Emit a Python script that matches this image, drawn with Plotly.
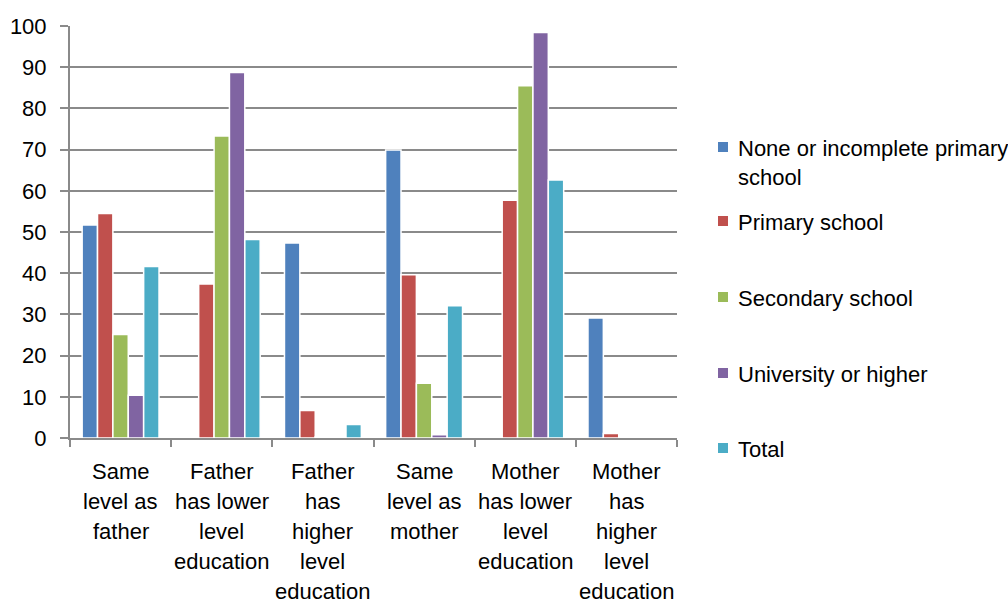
import plotly.graph_objects as go

# Categories (comparison of child's education with parents')
categories = [
    "Same level as father",
    "Father has lower level education",
    "Father has higher level education",
    "Same level as mother",
    "Mother has lower level education",
    "Mother has higher level education",
]
category_lines = [
    ["Same", "level as", "father"],
    ["Father", "has lower", "level", "education"],
    ["Father", "has", "higher", "level", "education"],
    ["Same", "level as", "mother"],
    ["Mother", "has lower", "level", "education"],
    ["Mother", "has", "higher", "level", "education"],
]

series_names = [
    "None or incomplete primary<br>school",
    "Primary school",
    "Secondary school",
    "University or higher",
    "Total",
]
none_or_incomplete = [51.7, 0, 47.3, 69.9, 0, 29.1]
primary = [54.5, 37.4, 6.7, 39.6, 57.7, 1.1]
secondary = [25.1, 73.3, 0.3, 13.3, 85.5, 0]
university = [10.4, 88.7, 0, 0.8, 98.4, 0]
total = [41.6, 48.2, 3.3, 32.1, 62.6, 0.3]

series_values = [none_or_incomplete, primary, secondary, university, total]
colors = ["#4F81BD", "#C0504D", "#9BBB59", "#8064A2", "#4BACC6"]

W, H = 1008, 604
ML, MR, MT, MB = 70, 331, 26, 166
PW, PH = W - ML - MR, H - MT - MB
FONT = "Liberation Sans, Arial, sans-serif"
GRID = "#8a8a8a"

fig = go.Figure()
for name, vals, col in zip(series_names, series_values, colors):
    fig.add_trace(go.Bar(
        x=categories, y=vals, name=name,
        marker=dict(color=col, line=dict(color="white", width=1.5)),
        showlegend=False,
    ))


def px_x(px):
    return (px - ML) / PW


def px_y(py):
    return (H - MB - py) / PH


annotations = []
# multi-line category labels below the axis
for cat, lines in zip(categories, category_lines):
    for i, line in enumerate(lines):
        annotations.append(dict(
            x=cat, xref="x", y=0, yref="paper",
            yshift=-(33 + 30 * i), yanchor="middle", xanchor="center",
            text=line, showarrow=False,
            font=dict(family=FONT, size=22, color="black"),
        ))

# legend drawn beside the plot
legend_rows = [147, 221, 297, 373, 448]
shapes = []
for name, col, row in zip(series_names, colors, legend_rows):
    shapes.append(dict(
        type="rect", xref="paper", yref="paper",
        x0=px_x(718), x1=px_x(728), y0=px_y(row + 5), y1=px_y(row - 5),
        fillcolor=col, line=dict(width=0),
    ))
    annotations.append(dict(
        x=px_x(736), xref="paper", y=px_y(row), yref="paper",
        xanchor="left", yanchor="top", yshift=13,
        text=name, showarrow=False, align="left",
        font=dict(family=FONT, size=22, color="black"),
    ))

fig.update_layout(
    width=W, height=H,
    margin=dict(l=ML, r=MR, t=MT, b=MB, pad=0, autoexpand=False),
    paper_bgcolor="white", plot_bgcolor="white",
    barmode="group", bargap=0.24, bargroupgap=0,
    font=dict(family=FONT, size=22, color="black"),
    annotations=annotations, shapes=shapes,
    xaxis=dict(
        type="category", showticklabels=False, automargin=False,
        ticks="outside", tickson="boundaries", ticklen=7, tickwidth=2,
        tickcolor=GRID, showline=True, linecolor=GRID, linewidth=2,
        showgrid=False, zeroline=False,
    ),
    yaxis=dict(
        range=[0, 100], dtick=10, tick0=0, automargin=False,
        ticks="outside", ticklen=8, tickwidth=2, tickcolor=GRID,
        showline=True, linecolor=GRID, linewidth=2,
        showgrid=True, gridcolor=GRID, gridwidth=2, zeroline=False,
        ticklabelstandoff=9,
        tickfont=dict(family=FONT, size=22, color="black"),
    ),
)

fig.write_html("out.html")
